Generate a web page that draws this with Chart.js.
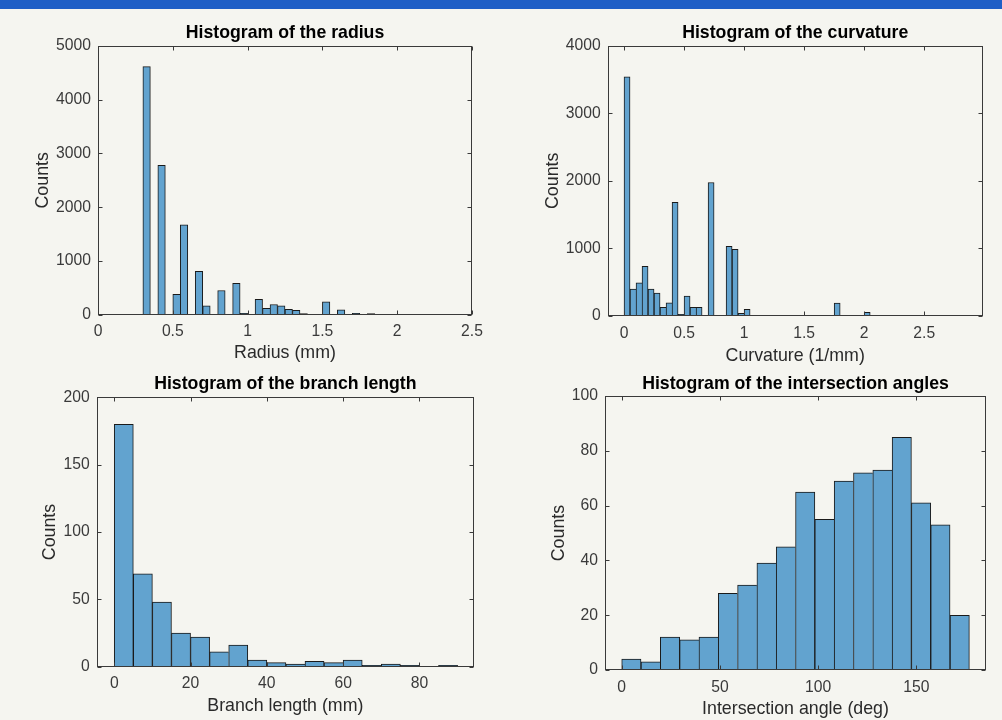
<!DOCTYPE html>
<html>
<head>
<meta charset="utf-8">
<script src="https://cdn.jsdelivr.net/npm/chart.js@4.4.0/dist/chart.umd.min.js"></script>
<style>
  html, body { margin: 0; padding: 0; }
  body { width: 1002px; height: 720px; background: #f5f5f0; position: relative; overflow: hidden; }
  .topbar { position: absolute; left: 0; top: 0; width: 1002px; height: 9px; background: #1f5fc6; }
  canvas { position: absolute; }
</style>
</head>
<body>
<div class="topbar"></div>
<canvas id="radiusChart" width="495" height="362" style="left:0px;top:10px"></canvas>
<canvas id="curvatureChart" width="502" height="362" style="left:500px;top:10px"></canvas>
<canvas id="branchChart" width="495" height="355" style="left:0px;top:365px"></canvas>
<canvas id="angleChart" width="502" height="355" style="left:500px;top:365px"></canvas>
<script>
// radius histogram (bins of 0.05 mm starting at 0.3)
const radiusBinStart = 0.3, radiusBinWidth = 0.05;
const radiusCounts = [4610, 0, 2780, 0, 385, 1675, 0, 810, 170, 0, 455, 0, 590, 30, 0,
  290, 125, 195, 170, 105, 85, 25, 12, 12, 245, 12, 95, 12, 30, 0, 25];
const radiusTicksX = [0, 0.5, 1, 1.5, 2, 2.5];
const radiusTicksY = [0, 1000, 2000, 3000, 4000, 5000];

// curvature histogram (bins of 0.05 1/mm starting at 0)
const curvatureBinStart = 0, curvatureBinWidth = 0.05;
const curvatureCounts = [3540, 400, 490, 735, 400, 340, 130, 195, 1680, 25, 295, 130, 130, 8, 1975,
  0, 0, 1030, 985, 40, 100, 0, 0, 0, 0, 0, 0, 0, 0, 0, 0, 0, 0, 0, 0, 190, 0, 0, 0, 0, 55];
const curvatureTicksX = [0, 0.5, 1, 1.5, 2, 2.5];
const curvatureTicksY = [0, 1000, 2000, 3000, 4000];

// branch length histogram (bins of 5 mm)
const branchBinStart = 0, branchBinWidth = 5;
const branchCounts = [180, 69, 48, 25, 22, 11, 16, 5, 3, 2, 4, 3, 5, 1, 2, 1, 0, 1];
const branchTicksX = [0, 20, 40, 60, 80];
const branchTicksY = [0, 50, 100, 150, 200];

// intersection angle histogram (18 bins)
const angleBinStart = 0, angleBinWidth = 9.83;
const angleCounts = [4, 3, 12, 11, 12, 28, 31, 39, 45, 65, 55, 69, 72, 73, 85, 61, 53, 20];
const angleTicksX = [0, 50, 100, 150];
const angleTicksY = [0, 20, 40, 60, 80, 100];

const FONT = "'Liberation Sans', Arial, Helvetica, sans-serif";
const AXIS = '#3a3a3a';

// matlab style box with inward ticks
const boxPlugin = {
  id: 'box',
  afterDraw(chart) {
    const {ctx, chartArea: a, scales: {x, y}} = chart;
    const L = Math.round(a.left) + 0.5, R = Math.round(a.right) - 0.5;
    const T = Math.round(a.top) + 0.5, B = Math.round(a.bottom) - 0.5;
    const len = 4;
    ctx.save();
    ctx.strokeStyle = AXIS;
    ctx.lineWidth = 1;
    ctx.strokeRect(L, T, R - L, B - T);
    ctx.beginPath();
    x.ticks.forEach(t => {
      const p = Math.round(x.getPixelForValue(t.value)) + 0.5;
      ctx.moveTo(p, B); ctx.lineTo(p, B - len);
      ctx.moveTo(p, T); ctx.lineTo(p, T + len);
    });
    y.ticks.forEach(t => {
      const p = Math.round(y.getPixelForValue(t.value)) + 0.5;
      ctx.moveTo(L, p); ctx.lineTo(L + len, p);
      ctx.moveTo(R, p); ctx.lineTo(R - len, p);
    });
    ctx.stroke();
    ctx.restore();
  }
};

function makeHist(id, o) {
  const points = o.counts.map((c, i) => ({x: o.binStart + (i + 0.5) * o.binWidth, y: c}));
  return new Chart(document.getElementById(id), {
    type: 'bar',
    data: {
      datasets: [{
        data: points,
        backgroundColor: '#62a3cf',
        borderColor: '#1a1a1a',
        borderSkipped: false,
        borderWidth: (c) => {
          const i = c.dataIndex;
          const next = o.counts[i + 1];
          return {top: 1, left: 1, bottom: 0, right: (next === undefined || next < o.counts[i]) ? 1 : 0};
        },
        barPercentage: 1,
        categoryPercentage: 1,
        grouped: false
      }]
    },
    options: {
      responsive: false,
      animation: false,
      layout: {padding: {left: 0, right: o.padRight, top: 0, bottom: 0}},
      plugins: {
        legend: {display: false},
        tooltip: {enabled: false},
        title: {
          display: true, text: o.title, fullSize: false, color: '#000',
          font: {family: FONT, size: 17.7, weight: 'bold'},
          padding: {top: o.titleTop, bottom: o.titleBottom}
        }
      },
      scales: {
        x: {
          type: 'linear', min: o.xMin, max: o.xMax, offset: false,
          grid: {display: false, drawTicks: false, offset: false}, border: {display: false},
          afterBuildTicks: s => { s.ticks = o.xTicks.map(v => ({value: v})); },
          afterFit: s => { s.height = o.xAxisHeight; },
          ticks: {callback: v => String(v), padding: o.xTickPad, color: AXIS, maxRotation: 0, autoSkip: false,
            font: {family: FONT, size: 15.7}},
          title: {display: true, text: o.xTitle, color: '#2a2a2a', font: {family: FONT, size: 17.8},
            padding: {top: 0, bottom: o.xTitlePad}}
        },
        y: {
          type: 'linear', min: 0, max: o.yMax,
          grid: {display: false, drawTicks: false}, border: {display: false},
          afterBuildTicks: s => { s.ticks = o.yTicks.map(v => ({value: v})); },
          afterFit: s => { s.width = o.yAxisWidth; },
          ticks: {callback: v => String(v), padding: 7, color: AXIS, autoSkip: false,
            font: {family: FONT, size: 15.7}},
          title: {display: true, text: 'Counts', color: '#2a2a2a', font: {family: FONT, size: 17.8},
            padding: {top: o.yTitlePad, bottom: 0}}
        }
      }
    },
    plugins: [boxPlugin]
  });
}

makeHist('radiusChart', {
  title: 'Histogram of the radius', xTitle: 'Radius (mm)',
  binStart: radiusBinStart, binWidth: radiusBinWidth, counts: radiusCounts,
  xTicks: radiusTicksX, yTicks: radiusTicksY, xMin: 0, xMax: 2.5, yMax: 5000,
  padRight: 23, yAxisWidth: 98, xAxisHeight: 57,
  titleTop: 12, titleBottom: 2.4, xTickPad: 7, xTitlePad: 8, yTitlePad: 32
});

makeHist('curvatureChart', {
  title: 'Histogram of the curvature', xTitle: 'Curvature (1/mm)',
  binStart: curvatureBinStart, binWidth: curvatureBinWidth, counts: curvatureCounts,
  xTicks: curvatureTicksX, yTicks: curvatureTicksY, xMin: -0.136, xMax: 2.987, yMax: 4000,
  padRight: 19.3, yAxisWidth: 107.7, xAxisHeight: 56,
  titleTop: 12, titleBottom: 2.4, xTickPad: 8, xTitlePad: 5.5, yTitlePad: 42
});

makeHist('branchChart', {
  title: 'Histogram of the branch length', xTitle: 'Branch length (mm)',
  binStart: branchBinStart, binWidth: branchBinWidth, counts: branchCounts,
  xTicks: branchTicksX, yTicks: branchTicksY, xMin: -4.6, xMax: 94.3, yMax: 200,
  padRight: 21, yAxisWidth: 96.7, xAxisHeight: 53.3,
  titleTop: 8.5, titleBottom: 2.6, xTickPad: 7.3, xTitlePad: 3.5, yTitlePad: 39
});

makeHist('angleChart', {
  title: 'Histogram of the intersection angles', xTitle: 'Intersection angle (deg)',
  binStart: angleBinStart, binWidth: angleBinWidth, counts: angleCounts,
  xTicks: angleTicksX, yTicks: angleTicksY, xMin: -8.5, xMax: 185.4, yMax: 100,
  padRight: 16, yAxisWidth: 105, xAxisHeight: 50,
  titleTop: 8.5, titleBottom: 1.4, xTickPad: 8.5, xTitlePad: 0.3, yTitlePad: 48
});
</script>
</body>
</html>
